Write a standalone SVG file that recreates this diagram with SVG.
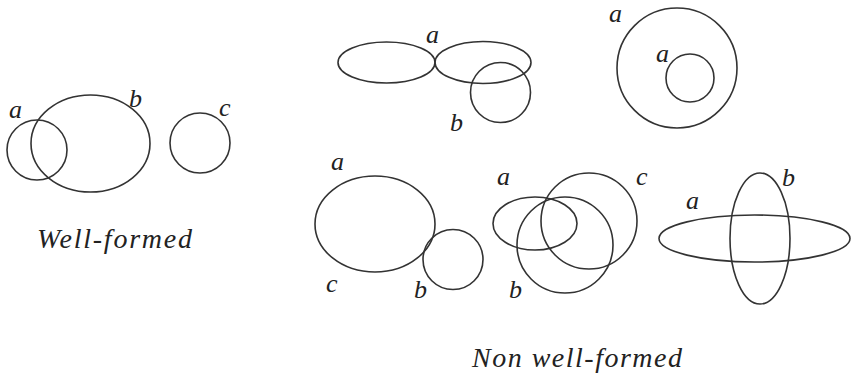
<svg xmlns="http://www.w3.org/2000/svg" width="853" height="377" viewBox="0 0 853 377">
<style>
.s{fill:none;stroke:#333;stroke-width:1.6}
.l{font-family:"Liberation Serif","Times New Roman",serif;font-style:italic;font-size:26px;fill:#222}
.t{font-family:"Liberation Serif","Times New Roman",serif;font-style:italic;font-size:28px;fill:#222}
</style>
<rect width="853" height="377" fill="#fff"/>
<g id="well-formed">
<circle class="s" cx="37" cy="150" r="30"/>
<ellipse class="s" cx="90.5" cy="143.5" rx="59.5" ry="48.5"/>
<circle class="s" cx="200" cy="143" r="30"/>
<text class="l" x="9" y="118">a</text>
<text class="l" x="129" y="107">b</text>
<text class="l" x="219" y="116">c</text>
<text class="t" x="37" y="248" textLength="155" lengthAdjust="spacing">Well-formed</text>
</g>
<g id="nwf1">
<ellipse class="s" cx="386.5" cy="62.5" rx="48.5" ry="20.5"/>
<ellipse class="s" cx="483" cy="62.5" rx="48" ry="21"/>
<circle class="s" cx="500.5" cy="92.5" r="30"/>
<text class="l" x="426" y="43">a</text>
<text class="l" x="450" y="131">b</text>
</g>
<g id="nwf2">
<circle class="s" cx="677" cy="68" r="60"/>
<circle class="s" cx="690" cy="78" r="24"/>
<text class="l" x="609" y="22">a</text>
<text class="l" x="656" y="62">a</text>
</g>
<g id="nwf3">
<ellipse class="s" cx="375" cy="224" rx="60" ry="48"/>
<circle class="s" cx="453" cy="259.5" r="30"/>
<text class="l" x="331" y="170">a</text>
<text class="l" x="326" y="292">c</text>
<text class="l" x="414" y="298">b</text>
</g>
<g id="nwf4">
<ellipse class="s" cx="535" cy="223.5" rx="42" ry="26.5"/>
<circle class="s" cx="565" cy="245" r="48"/>
<circle class="s" cx="589" cy="221" r="48"/>
<text class="l" x="497" y="185">a</text>
<text class="l" x="636" y="185">c</text>
<text class="l" x="509" y="298">b</text>
</g>
<g id="nwf5">
<ellipse class="s" cx="754.5" cy="238.5" rx="95.5" ry="23.5"/>
<ellipse class="s" cx="760" cy="238.5" rx="30" ry="65.5"/>
<text class="l" x="686" y="209">a</text>
<text class="l" x="782" y="186">b</text>
</g>
<text class="t" x="472" y="367" textLength="210" lengthAdjust="spacing">Non well-formed</text>
</svg>
